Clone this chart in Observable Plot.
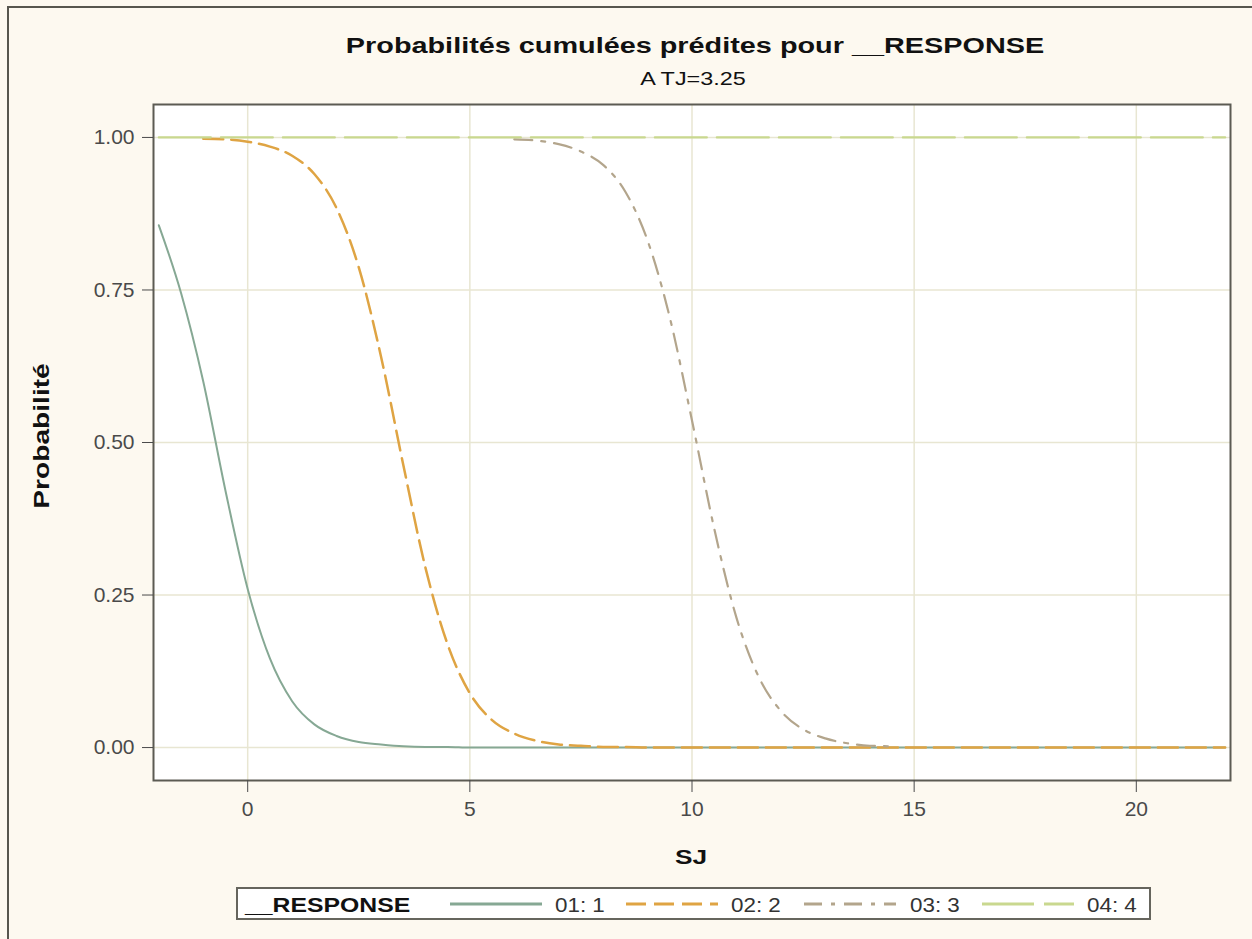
<!DOCTYPE html>
<html><head><meta charset="utf-8">
<script src="https://cdn.jsdelivr.net/npm/d3@7"></script>
<script src="https://cdn.jsdelivr.net/npm/@observablehq/plot@0.6"></script>
<style>
html,body{margin:0;padding:0;background:#fdf9f0;}
#wrap{position:relative;width:1252px;height:939px;overflow:hidden;background:#fdf9f0;font-family:"Liberation Sans",Arial,sans-serif;color:#111;}
#border{position:absolute;left:7px;top:6px;width:1260px;height:950px;border-top:2px solid #57564e;border-left:2px solid #57564e;box-sizing:border-box;}
#chart{position:absolute;left:0;top:0;}
.t{position:absolute;white-space:nowrap;line-height:1;transform-origin:center center;}
#legend{position:absolute;left:236px;top:887px;width:915px;height:33px;box-sizing:border-box;background:#fff;border:2px solid #66655d;}
.sw{position:absolute;}
</style></head>
<body><div id="wrap">
<div id="border"></div>
<div id="chart"></div>
<div class="t" id="title" style="left:695px;top:35px;font-size:22px;font-weight:bold;transform:translateX(-50%) scaleX(1.31);">Probabilités cumulées prédites pour __RESPONSE</div>
<div class="t" id="subtitle" style="left:693px;top:70px;font-size:18px;transform:translateX(-50%) scaleX(1.3);">A TJ=3.25</div>
<div class="t" id="ylabel" style="left:42px;top:436px;font-size:22px;font-weight:bold;transform:translate(-50%,-50%) rotate(-90deg) scaleX(1.28);">Probabilité</div>
<div class="t" id="xlabel" style="left:691px;top:846px;font-size:21px;font-weight:bold;transform:translateX(-50%) scaleX(1.25);">SJ</div>
<div id="legend"></div>
</div>
<script>
// ---- data ----
const sj = [-2, -1.5, -1, -0.5, 0, 0.5, 1, 1.5, 2, 2.5, 3, 3.5, 4, 4.5, 5, 5.5, 6, 6.5, 7, 7.5, 8, 8.5, 9, 9.5, 10, 10.5, 11, 11.5, 12, 12.5, 13, 13.5, 14, 14.5, 15, 15.5, 16, 16.5, 17, 17.5, 18, 18.5, 19, 19.5, 20, 20.5, 21, 21.5, 22];
const resp1 = [0.856, 0.745, 0.600, 0.421, 0.260, 0.146, 0.076, 0.038, 0.019, 0.009, 0.005, 0.002, 0.001, 0.001, 0, 0, 0, 0, 0, 0, 0, 0, 0, 0, 0, 0, 0, 0, 0, 0, 0, 0, 0, 0, 0, 0, 0, 0, 0, 0, 0, 0, 0, 0, 0, 0, 0, 0, 0];
const resp2 = [null, null, 0.998, 0.997, 0.993, 0.985, 0.970, 0.940, 0.884, 0.787, 0.641, 0.464, 0.295, 0.169, 0.089, 0.045, 0.023, 0.011, 0.005, 0.003, 0.001, 0.001, 0, 0, 0, 0, 0, 0, 0, 0, 0, 0, 0, 0, 0, 0, 0, 0, 0, 0, 0, 0, 0, 0, 0, 0, 0, 0, 0];
const resp3 = [null, null, null, null, null, null, null, null, null, null, null, null, null, null, null, null, 0.997, 0.995, 0.989, 0.977, 0.955, 0.911, 0.831, 0.705, 0.536, 0.359, 0.213, 0.116, 0.060, 0.030, 0.015, 0.007, 0.003, 0.002, null, null, null, null, null, null, null, null, null, null, null, null, null, null, null];
const resp4 = [1, 1, 1, 1, 1, 1, 1, 1, 1, 1, 1, 1, 1, 1, 1, 1, 1, 1, 1, 1, 1, 1, 1, 1, 1, 1, 1, 1, 1, 1, 1, 1, 1, 1, 1, 1, 1, 1, 1, 1, 1, 1, 1, 1, 1, 1, 1, 1, 1];
const seriesNames = ["01: 1", "02: 2", "03: 3", "04: 4"];
const xTicks = [0, 5, 10, 15, 20];
const yTicks = [0, 0.25, 0.5, 0.75, 1];
const legendTitle = "__RESPONSE";

// ---- styles ----
const styles = [
  {color: "#86a894", width: 2, dash: null},
  {color: "#dfa443", width: 2.5, dash: "20,8"},
  {color: "#b3a58c", width: 2.2, dash: "18,9,4,9"},
  {color: "#c9d88f", width: 2.2, dash: "52,10"}
];
const allSeries = [resp1, resp2, resp3, resp4];
const rows = [];
allSeries.forEach((vals, s) => sj.forEach((x, i) => rows.push({series: seriesNames[s], x, y: vals[i]})));

const lineMarks = seriesNames.map((name, s) => Plot.line(rows.filter(d => d.series === name), {
  x: "x", y: "y", stroke: styles[s].color, strokeWidth: styles[s].width,
  strokeDasharray: styles[s].dash, curve: "monotone-x"
}));

const svg = Plot.plot({
  width: 1252, height: 880,
  marginLeft: 153, marginRight: 22, marginTop: 104, marginBottom: 100,
  style: {background: "transparent", fontFamily: "Liberation Sans, Arial, sans-serif", fontSize: "21px", overflow: "visible"},
  x: {domain: [-2.12, 22.12], label: null},
  y: {domain: [-0.054, 1.054], label: null},
  marks: [
    Plot.frame({fill: "white", stroke: "none"}),
    Plot.gridX(xTicks, {stroke: "#e8e6d2", strokeOpacity: 1, strokeWidth: 1.5}),
    Plot.gridY(yTicks, {stroke: "#e8e6d2", strokeOpacity: 1, strokeWidth: 1.5}),
    ...lineMarks,
    Plot.frame({stroke: "#5c5b53", strokeWidth: 2}),
    Plot.axisX(xTicks, {tickSize: 12, tickPadding: 9, color: "#4a4a4a", label: null, tickFormat: d => String(d)}),
    Plot.axisY(yTicks, {tickSize: 11, tickPadding: 8, color: "#4a4a4a", label: null, tickFormat: d3.format(".2f")})
  ]
});
document.getElementById("chart").appendChild(svg);

// ---- legend ----
const legend = document.getElementById("legend");
const lt = document.createElement("div");
lt.className = "t";
lt.textContent = legendTitle;
lt.style.cssText = "left:7px;top:5px;font-size:21px;font-weight:bold;transform-origin:left center;transform:scaleX(1.18);";
legend.appendChild(lt);
const swX = [212, 388, 566, 744];
const labX = [317, 493, 672, 849];
seriesNames.forEach((name, s) => {
  const ns = "http://www.w3.org/2000/svg";
  const sv = document.createElementNS(ns, "svg");
  sv.setAttribute("class", "sw");
  sv.setAttribute("width", 92); sv.setAttribute("height", 8);
  sv.style.left = swX[s] + "px"; sv.style.top = "11px";
  const ln = document.createElementNS(ns, "line");
  ln.setAttribute("x1", 0); ln.setAttribute("x2", 92); ln.setAttribute("y1", 4); ln.setAttribute("y2", 4);
  ln.setAttribute("stroke", styles[s].color); ln.setAttribute("stroke-width", 3);
  if (styles[s].dash) ln.setAttribute("stroke-dasharray", styles[s].dash);
  sv.appendChild(ln);
  legend.appendChild(sv);
  const lb = document.createElement("div");
  lb.className = "t";
  lb.textContent = name;
  lb.style.cssText = `left:${labX[s]}px;top:6px;font-size:20px;color:#333;transform-origin:left center;transform:scaleX(1.12);`;
  legend.appendChild(lb);
});
</script>
</body></html>
